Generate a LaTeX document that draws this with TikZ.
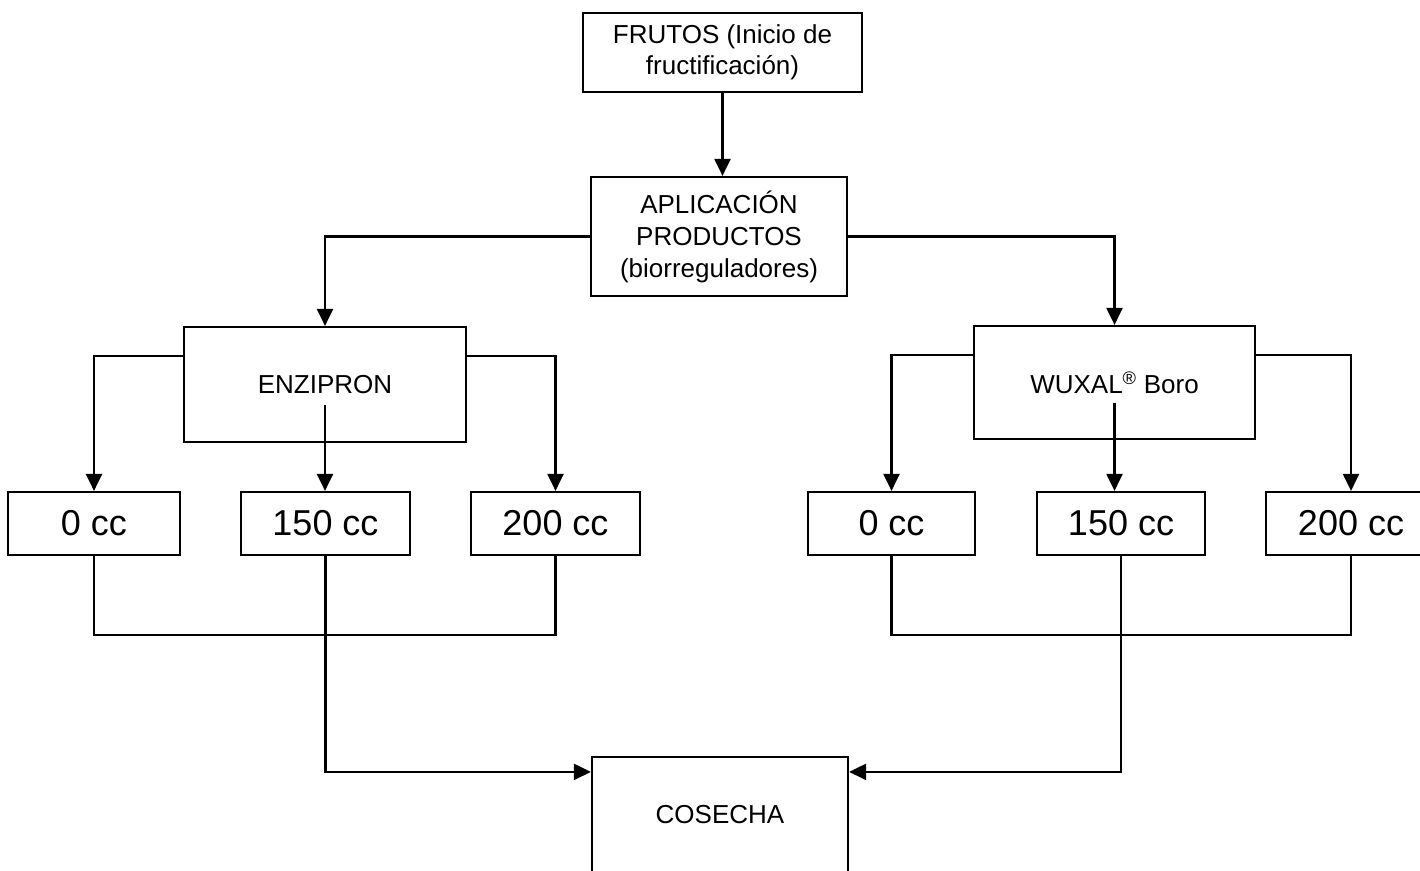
\documentclass[tikz,border=0pt]{standalone}
\usepackage{fontspec}
\setmainfont{Liberation Sans}
\usetikzlibrary{arrows.meta}
\begin{document}
\begin{tikzpicture}[x=1pt,y=-1pt,
  box/.style={draw, line width=2.2pt, inner sep=0pt, align=center,
    font=\fontsize{26}{31}\selectfont},
  ccbox/.style={draw, line width=2.2pt, inner sep=0pt, minimum width=169pt, minimum height=63pt,
    font=\fontsize{36}{40}\selectfont},
  conn/.style={line width=2.2pt},
  arr/.style={line width=2.2pt, -{Triangle[length=17pt,width=16pt]}}]
\useasboundingbox (0,0) rectangle (1420,870);
\clip (0,0) rectangle (1420,870);
\fill[white] (0,0) rectangle (1420,870);
% boxes
\node[box, minimum width=279pt, minimum height=79pt] (frutos) at (722.5,52.5)
  {FRUTOS (Inicio de\\fructificación)};
\node[box, minimum width=256pt, minimum height=119pt, font=\fontsize{26}{32}\selectfont] (apl) at (719,236.5)
  {APLICACIÓN\\PRODUCTOS\\(biorreguladores)};
\node[box, minimum width=282pt, minimum height=115pt] (enz) at (325,384.5) {ENZIPRON};
\node[box, minimum width=281pt, minimum height=113pt] (wux) at (1114.5,382.5)
  {WUXAL\textsuperscript{\textregistered} Boro};
\node[ccbox, minimum width=172pt] (L0) at (94,523.5) {0 cc};
\node[ccbox] (L150) at (325.5,523.5) {150 cc};
\node[ccbox] (L200) at (555.5,523.5) {200 cc};
\node[ccbox, minimum width=167pt] (R0) at (891.5,523.5) {0 cc};
\node[ccbox, minimum width=168pt] (R150) at (1121,523.5) {150 cc};
\node[ccbox, minimum width=170pt] (R200) at (1351,523.5) {200 cc};
\node[box, minimum width=256pt, minimum height=115pt] (cos) at (720,814.5) {COSECHA};
% connectors
\draw[arr] (frutos.south) -- (frutos.south |- apl.north);
\draw[arr] (apl.west) -| (enz.north);
\draw[arr] (apl.east) -| (wux.north);
% ENZIPRON branches
\draw[arr] ([yshift=-30pt]enz.north west) -| (L0.north);
\draw[arr] ([yshift=-30pt]enz.north east) -| (L200.north);
\draw[arr] ([yshift=-20pt]enz.center) -- (enz.center |- L150.north);
% WUXAL branches
\draw[arr] ([yshift=-30pt]wux.north west) -| (R0.north);
\draw[arr] ([yshift=-30pt]wux.north east) -| (R200.north);
\draw[arr] ([yshift=-20pt]wux.center) -- (wux.center |- R150.north);
% bottom joins
\draw[conn] (L0.south) |- ([yshift=-79pt]L200.south) -- (L200.south);
\draw[conn] (R0.south) |- ([yshift=-79pt]R200.south) -- (R200.south);
\draw[arr] (L150.south) |- ([yshift=-16pt]cos.north west);
\draw[arr] (R150.south) |- ([yshift=-16pt]cos.north east);
\end{tikzpicture}
\end{document}
